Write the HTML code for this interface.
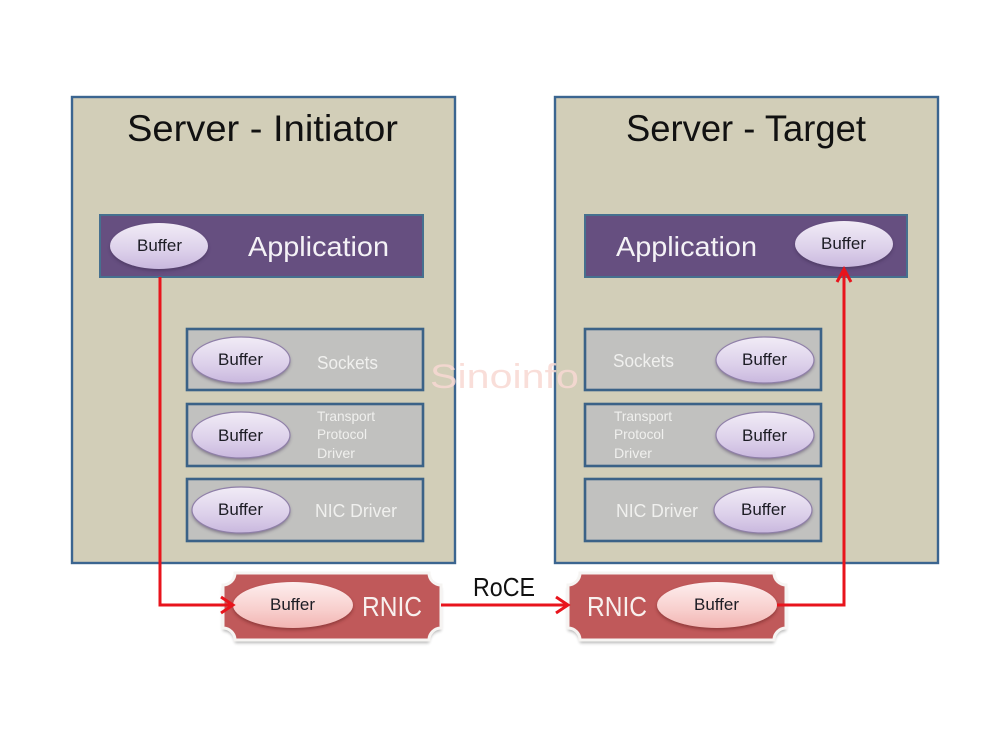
<!DOCTYPE html>
<html>
<head>
<meta charset="utf-8">
<style>
html,body{margin:0;padding:0;background:#fff;width:1000px;height:750px;overflow:hidden}
svg{display:block;filter:blur(0.35px)}
text{font-family:"Liberation Sans",sans-serif}
</style>
</head>
<body>
<svg width="1000" height="750" viewBox="0 0 1000 750" xmlns="http://www.w3.org/2000/svg">
<defs>
<linearGradient id="p" x1="0" y1="0" x2="0" y2="1">
<stop offset="0" stop-color="#f1ecf6"/><stop offset="0.6" stop-color="#dcd0ea"/><stop offset="1" stop-color="#c9b8de"/>
</linearGradient>
<linearGradient id="r" x1="0" y1="0" x2="0" y2="1">
<stop offset="0" stop-color="#fdeeee"/><stop offset="0.6" stop-color="#f8cfcd"/><stop offset="1" stop-color="#f2b5b3"/>
</linearGradient>
<filter id="b" x="-20%" y="-20%" width="140%" height="150%">
<feGaussianBlur stdDeviation="1.6"/>
</filter>
</defs>

<!-- servers -->
<rect x="72" y="97" width="383" height="466" fill="#d2ceb8" stroke="#3b6590" stroke-width="2.4"/>
<rect x="555" y="97" width="383" height="466" fill="#d2ceb8" stroke="#3b6590" stroke-width="2.4"/>
<text x="127" y="141" font-size="37" fill="#111" textLength="271" lengthAdjust="spacingAndGlyphs">Server - Initiator</text>
<text x="626" y="141" font-size="37" fill="#111" textLength="240" lengthAdjust="spacingAndGlyphs">Server - Target</text>

<!-- application -->
<rect x="100" y="215" width="323" height="62" fill="#664f80" stroke="#46708f" stroke-width="2"/>
<rect x="585" y="215" width="322" height="62" fill="#664f80" stroke="#46708f" stroke-width="2"/>
<text x="248" y="256" font-size="28" fill="#f4f2f6" textLength="141" lengthAdjust="spacingAndGlyphs">Application</text>
<text x="616" y="256" font-size="28" fill="#f4f2f6" textLength="141" lengthAdjust="spacingAndGlyphs">Application</text>

<!-- layer boxes -->
<g fill="#c1c1bf" stroke="#3b6287" stroke-width="2.6">
<rect x="187" y="329" width="236" height="61"/>
<rect x="187" y="404" width="236" height="62"/>
<rect x="187" y="479" width="236" height="62"/>
<rect x="585" y="329" width="236" height="61"/>
<rect x="585" y="404" width="236" height="62"/>
<rect x="585" y="479" width="236" height="62"/>
</g>

<g fill="#f0f0ee">
<text x="317" y="369" font-size="18" textLength="61" lengthAdjust="spacingAndGlyphs">Sockets</text>
<text x="317" y="421" font-size="14" textLength="58" lengthAdjust="spacingAndGlyphs">Transport</text>
<text x="317" y="439" font-size="14" textLength="50" lengthAdjust="spacingAndGlyphs">Protocol</text>
<text x="317" y="458" font-size="14" textLength="38" lengthAdjust="spacingAndGlyphs">Driver</text>
<text x="315" y="517" font-size="18" textLength="82" lengthAdjust="spacingAndGlyphs">NIC Driver</text>
<text x="613" y="367" font-size="18" textLength="61" lengthAdjust="spacingAndGlyphs">Sockets</text>
<text x="614" y="421" font-size="14" textLength="58" lengthAdjust="spacingAndGlyphs">Transport</text>
<text x="614" y="439" font-size="14" textLength="50" lengthAdjust="spacingAndGlyphs">Protocol</text>
<text x="614" y="458" font-size="14" textLength="38" lengthAdjust="spacingAndGlyphs">Driver</text>
<text x="616" y="517" font-size="18" textLength="82" lengthAdjust="spacingAndGlyphs">NIC Driver</text>
</g>

<!-- RNIC plaques -->
<path d="M235 573H429A12 12 0 0 0 441 585V628A12 12 0 0 0 429 640H235A12 12 0 0 0 223 628V585A12 12 0 0 0 235 573Z" fill="#000" opacity=".3" transform="translate(0,3)" filter="url(#b)"/>
<path d="M235 573H429A12 12 0 0 0 441 585V628A12 12 0 0 0 429 640H235A12 12 0 0 0 223 628V585A12 12 0 0 0 235 573Z" fill="#c0595a" stroke="#f6f4f2" stroke-width="3"/>
<path d="M580 573H774A12 12 0 0 0 786 585V628A12 12 0 0 0 774 640H580A12 12 0 0 0 568 628V585A12 12 0 0 0 580 573Z" fill="#000" opacity=".3" transform="translate(0,3)" filter="url(#b)"/>
<path d="M580 573H774A12 12 0 0 0 786 585V628A12 12 0 0 0 774 640H580A12 12 0 0 0 568 628V585A12 12 0 0 0 580 573Z" fill="#c0595a" stroke="#f6f4f2" stroke-width="3"/>
<text x="362" y="616" font-size="28" fill="#f8f0ee" textLength="60" lengthAdjust="spacingAndGlyphs">RNIC</text>
<text x="587" y="616" font-size="28" fill="#f8f0ee" textLength="60" lengthAdjust="spacingAndGlyphs">RNIC</text>

<!-- ellipse shadows -->
<g fill="#3a2a50" opacity=".5" filter="url(#b)">
<ellipse cx="159" cy="248" rx="49" ry="23"/>
<ellipse cx="844" cy="246" rx="49" ry="23"/>
<ellipse cx="241" cy="362" rx="49" ry="23"/>
<ellipse cx="241" cy="437" rx="49" ry="23"/>
<ellipse cx="241" cy="512" rx="49" ry="23"/>
<ellipse cx="765" cy="362" rx="49" ry="23"/>
<ellipse cx="765" cy="437" rx="49" ry="23"/>
<ellipse cx="763" cy="512" rx="49" ry="23"/>
</g>
<g fill="#6a2020" opacity=".55" filter="url(#b)">
<ellipse cx="293" cy="607" rx="60" ry="23"/>
<ellipse cx="717" cy="607" rx="60" ry="23"/>
</g>

<!-- ellipses -->
<g fill="url(#p)">
<ellipse cx="159" cy="246" rx="49" ry="23"/>
<ellipse cx="844" cy="244" rx="49" ry="23"/>
</g>
<g fill="url(#p)" stroke="#8f7fa8" stroke-width="1.2">
<ellipse cx="241" cy="360" rx="49" ry="23"/>
<ellipse cx="241" cy="435" rx="49" ry="23"/>
<ellipse cx="241" cy="510" rx="49" ry="23"/>
<ellipse cx="765" cy="360" rx="49" ry="23"/>
<ellipse cx="765" cy="435" rx="49" ry="23"/>
<ellipse cx="763" cy="510" rx="49" ry="23"/>
</g>
<g fill="url(#r)">
<ellipse cx="293" cy="605" rx="60" ry="23"/>
<ellipse cx="717" cy="605" rx="60" ry="23"/>
</g>

<!-- buffer labels -->
<g font-size="17" fill="#1c1c24">
<text x="137" y="251" textLength="45" lengthAdjust="spacingAndGlyphs">Buffer</text>
<text x="821" y="249" textLength="45" lengthAdjust="spacingAndGlyphs">Buffer</text>
<text x="218" y="365" textLength="45" lengthAdjust="spacingAndGlyphs">Buffer</text>
<text x="218" y="441" textLength="45" lengthAdjust="spacingAndGlyphs">Buffer</text>
<text x="218" y="515" textLength="45" lengthAdjust="spacingAndGlyphs">Buffer</text>
<text x="742" y="365" textLength="45" lengthAdjust="spacingAndGlyphs">Buffer</text>
<text x="742" y="441" textLength="45" lengthAdjust="spacingAndGlyphs">Buffer</text>
<text x="741" y="515" textLength="45" lengthAdjust="spacingAndGlyphs">Buffer</text>
<text x="270" y="610" textLength="45" lengthAdjust="spacingAndGlyphs">Buffer</text>
<text x="694" y="610" textLength="45" lengthAdjust="spacingAndGlyphs">Buffer</text>
</g>

<!-- connectors -->
<g fill="none" stroke="#e8141c" stroke-width="3">
<path d="M160 277V605H231"/>
<path d="M221 597L233 605L221 613"/>
<path d="M441 605H566"/>
<path d="M556 597L568 605L556 613"/>
<path d="M777 605H844V270"/>
<path d="M837 282L844 269L851 282"/>
</g>

<text x="473" y="596" font-size="26" fill="#111" textLength="62" lengthAdjust="spacingAndGlyphs">RoCE</text>

<!-- watermark -->
<text x="430" y="388" font-size="34" fill="#f8d8d2" fill-opacity=".85" textLength="149" lengthAdjust="spacingAndGlyphs">Sinoinfo</text>
</svg>
</body>
</html>
